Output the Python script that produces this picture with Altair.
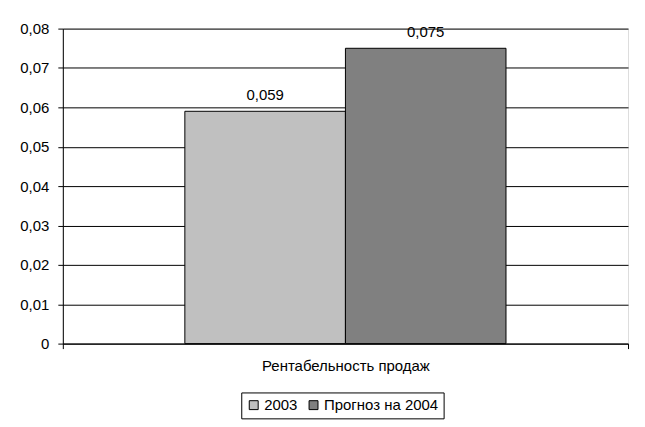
import altair as alt
import pandas as pd

category = ["Рентабельность продаж", "Рентабельность продаж"]
series = ["2003", "Прогноз на 2004"]
values = [0.059, 0.075]
colors = ["#C0C0C0", "#808080"]
y_ticks = [0, 0.01, 0.02, 0.03, 0.04, 0.05, 0.06, 0.07, 0.08]

df = pd.DataFrame({"cat": category, "series": series, "value": values})

FONT = "Liberation Sans"
FS = 15

base = alt.Chart(df).encode(
    x=alt.X("cat:N", title=None,
            scale=alt.Scale(paddingInner=0, paddingOuter=0),
            axis=alt.Axis(labelAngle=0, tickBand="extent", tickSize=5, tickColor="black",
                          domainColor="black", labelColor="black", labelFontSize=FS,
                          labelFont=FONT, labelPadding=10, grid=False)),
    xOffset=alt.XOffset("series:N", scale=alt.Scale(paddingInner=0, paddingOuter=0.76)),
)

yaxis = alt.Axis(values=y_ticks,
                 labelExpr="datum.value == 0 ? '0' : replace(format(datum.value, '.2f'), '.', ',')",
                 gridColor="black", gridOpacity=1, domainColor="black", tickColor="black",
                 tickSize=5, labelPadding=9, labelColor="black", labelFontSize=FS,
                 labelFont=FONT, labelOverlap=False)

bars = base.mark_bar(stroke="black", strokeWidth=1).encode(
    y=alt.Y("value:Q", title=None,
            scale=alt.Scale(domain=[0, 0.08], nice=False),
            axis=yaxis),
    color=alt.Color("series:N", scale=alt.Scale(domain=series, range=colors),
                    legend=alt.Legend(title=None, orient="none", legendX=179, legendY=365,
                                      direction="horizontal",
                                      symbolType="square", symbolSize=80, symbolStrokeColor="black",
                                      symbolStrokeWidth=1, labelFontSize=FS, labelFont=FONT,
                                      labelColor="black", strokeColor="black", padding=5,
                                      columnPadding=8, symbolOffset=0,
                                      labelOffset=3)),
)

labels = base.mark_text(dy=-16, fontSize=FS, font=FONT, color="black").transform_calculate(
    label="replace(format(datum.value, '.3f'), '.', ',')"
).encode(
    y=alt.Y("value:Q", axis=yaxis, scale=alt.Scale(domain=[0, 0.08], nice=False)),
    text="label:N",
)

chart = alt.layer(bars, labels).properties(
    width=567, height=316,
    padding={"left": 11, "top": 13, "right": 8, "bottom": 5},
).configure_view(stroke="black", strokeWidth=1).configure(background="white")

chart.save("out.html", embed_options={"renderer": "svg", "actions": False})
